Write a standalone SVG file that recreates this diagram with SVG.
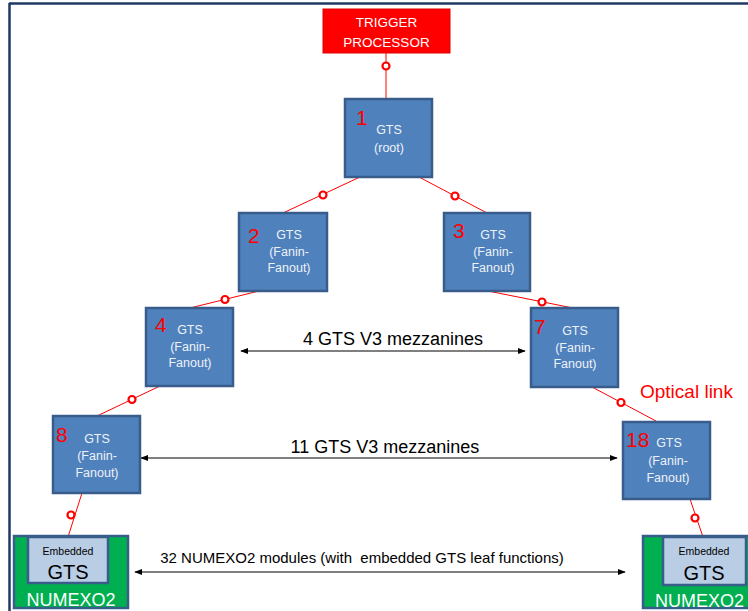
<svg xmlns="http://www.w3.org/2000/svg" width="748" height="611" viewBox="0 0 748 611">
<defs>
<style>
.gts{fill:#4F81BD;stroke:#385D8A;stroke-width:2.5}
.t{font-family:"Liberation Sans",Arial,sans-serif;font-size:12.5px;fill:#EEF2F8;text-anchor:middle}
.n{font-family:"Liberation Sans",Arial,sans-serif;font-size:21px;fill:#FF0000}
.link{stroke:#FF0000;stroke-width:1;fill:none}
.dot{fill:#FFFFFF;stroke:#FF0000;stroke-width:2.2}
.arr{stroke:#000;stroke-width:1.2;fill:none;marker-start:url(#ah);marker-end:url(#ah)}
.lbl{font-family:"Liberation Sans",Arial,sans-serif;fill:#000;text-anchor:middle}
.green{fill:#00B050;stroke:#385D8A;stroke-width:2.5}
.inner{fill:#B9CDE5;stroke:#385D8A;stroke-width:2.5}
</style>
<marker id="ah" viewBox="0 0 10 10" refX="9" refY="5" markerWidth="8" markerHeight="8" markerUnits="userSpaceOnUse" orient="auto-start-reverse">
<path d="M0,1 L10,5 L0,9 Z" fill="#000"/>
</marker>
</defs>
<rect width="748" height="611" fill="#FFFFFF"/>
<g id="frame">
<line x1="9" y1="3.5" x2="748" y2="3.5" stroke="#1F3864" stroke-width="2.5"/>
<line x1="9.5" y1="3" x2="9.5" y2="611" stroke="#1F3864" stroke-width="2.5"/>
</g>
<g id="connectors">
<line class="link" x1="386" y1="53" x2="386" y2="99"/>
<line class="link" x1="360" y1="177" x2="283" y2="213"/>
<line class="link" x1="419" y1="177" x2="487" y2="213"/>
<line class="link" x1="259" y1="291" x2="190" y2="308"/>
<line class="link" x1="488" y1="291" x2="573" y2="308"/>
<line class="link" x1="160" y1="386" x2="97" y2="416"/>
<line class="link" x1="592" y1="387" x2="656" y2="421"/>
<line class="link" x1="82" y1="493" x2="68" y2="537"/>
<line class="link" x1="690" y1="499" x2="703" y2="537"/>
<circle class="dot" cx="386" cy="66" r="3.5"/>
<circle class="dot" cx="323" cy="195" r="3.5"/>
<circle class="dot" cx="455" cy="196" r="3.5"/>
<circle class="dot" cx="225" cy="299.5" r="3.5"/>
<circle class="dot" cx="542" cy="302" r="3.5"/>
<circle class="dot" cx="132" cy="399.5" r="3.5"/>
<circle class="dot" cx="621" cy="402.5" r="3.5"/>
<circle class="dot" cx="71" cy="515" r="3.5"/>
<circle class="dot" cx="695" cy="518" r="3.5"/>
<line class="arr" x1="241" y1="351" x2="525" y2="351"/>
<line class="arr" x1="141" y1="458" x2="617" y2="458"/>
<line class="arr" x1="135" y1="572" x2="625" y2="572"/>
</g>
<g id="labels">
<text class="lbl" x="393" y="345" font-size="18">4 GTS V3 mezzanines</text>
<text class="lbl" x="385" y="453" font-size="18">11 GTS V3 mezzanines</text>
<text class="lbl" x="362" y="563" font-size="15" xml:space="preserve">32 NUMEXO2 modules (with  embedded GTS leaf functions)</text>
<text x="640" y="398" font-family="Liberation Sans,Arial,sans-serif" font-size="19" fill="#FF0000">Optical link</text>
</g>
<g id="trigger">
<rect x="323" y="9" width="127" height="44" fill="#FF0000" stroke="#E00000" stroke-width="1"/>
<text x="386.5" y="27" font-family="Liberation Sans,Arial,sans-serif" font-size="13.5" fill="#FFFFFF" text-anchor="middle">TRIGGER</text>
<text x="386.5" y="47" font-family="Liberation Sans,Arial,sans-serif" font-size="13.5" fill="#FFFFFF" text-anchor="middle">PROCESSOR</text>
</g>
<g id="gts1">
<rect class="gts" x="345" y="99" width="87" height="78"/>
<text class="n" x="356" y="125">1</text>
<text class="t" x="389" y="134">GTS</text>
<text class="t" x="389" y="152">(root)</text>
</g>
<g id="gts2">
<rect class="gts" x="239" y="213" width="88" height="78"/>
<text class="n" x="248" y="243">2</text>
<text class="t" x="289" y="239">GTS</text>
<text class="t" x="289" y="256">(Fanin-</text>
<text class="t" x="289" y="272">Fanout)</text>
</g>
<g id="gts3">
<rect class="gts" x="444" y="213" width="86" height="78"/>
<text class="n" x="453" y="238">3</text>
<text class="t" x="493" y="239">GTS</text>
<text class="t" x="493" y="256">(Fanin-</text>
<text class="t" x="493" y="272">Fanout)</text>
</g>
<g id="gts4">
<rect class="gts" x="146" y="308" width="87" height="78"/>
<text class="n" x="155" y="332">4</text>
<text class="t" x="190" y="334">GTS</text>
<text class="t" x="190" y="351">(Fanin-</text>
<text class="t" x="190" y="367">Fanout)</text>
</g>
<g id="gts7">
<rect class="gts" x="531" y="308" width="87" height="79"/>
<text class="n" x="534" y="334">7</text>
<text class="t" x="575" y="335">GTS</text>
<text class="t" x="575" y="352">(Fanin-</text>
<text class="t" x="575" y="368">Fanout)</text>
</g>
<g id="gts8">
<rect class="gts" x="53" y="416" width="87" height="77"/>
<text class="n" x="56" y="442">8</text>
<text class="t" x="97" y="443">GTS</text>
<text class="t" x="97" y="460">(Fanin-</text>
<text class="t" x="97" y="477">Fanout)</text>
</g>
<g id="gts18">
<rect class="gts" x="623" y="422" width="87" height="77"/>
<text class="n" x="626" y="447">18</text>
<text class="t" x="669" y="447">GTS</text>
<text class="t" x="668" y="465">(Fanin-</text>
<text class="t" x="668" y="482">Fanout)</text>
</g>
<g id="numexo2-left">
<rect class="green" x="14" y="536" width="114" height="72"/>
<rect class="inner" x="28" y="537" width="80" height="46"/>
<text x="68" y="555" font-family="Liberation Sans,Arial,sans-serif" font-size="10.5" fill="#000" text-anchor="middle">Embedded</text>
<text x="68" y="579" font-family="Liberation Sans,Arial,sans-serif" font-size="20" fill="#000" text-anchor="middle">GTS</text>
<text x="71" y="606" font-family="Liberation Sans,Arial,sans-serif" font-size="18" fill="#FFFFFF" text-anchor="middle">NUMEXO2</text>
</g>
<g id="numexo2-right">
<rect class="green" x="643" y="536" width="120" height="72"/>
<rect class="inner" x="663" y="537" width="83" height="48"/>
<text x="704" y="555" font-family="Liberation Sans,Arial,sans-serif" font-size="10.5" fill="#000" text-anchor="middle">Embedded</text>
<text x="704" y="580" font-family="Liberation Sans,Arial,sans-serif" font-size="20" fill="#000" text-anchor="middle">GTS</text>
<text x="655" y="607" font-family="Liberation Sans,Arial,sans-serif" font-size="18" fill="#FFFFFF">NUMEXO2</text>
</g>
</svg>
